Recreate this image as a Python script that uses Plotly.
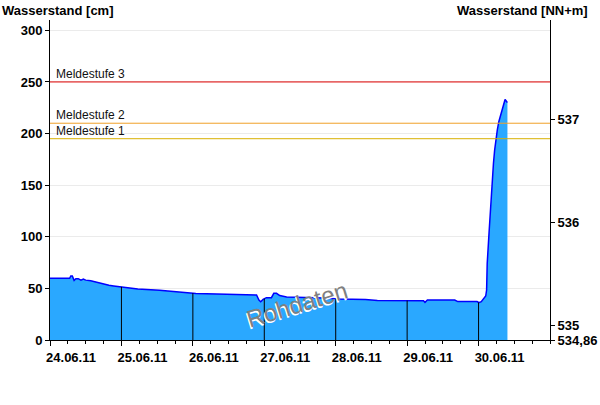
import numpy as np
import pandas as pd
import plotly.graph_objects as go

# Pegel readings: hours since 24.06.2011 00:00 and water level in cm
start = pd.Timestamp("2011-06-24 00:00")
hours = [0, 6.6, 7.0, 7.5, 8.1, 8.7, 9.5, 10.4, 11.2, 12, 13.7, 15.4, 17.1, 18.4,
         19.8, 21.4, 24, 26, 29.5, 36.8, 40.7, 44.6, 49, 56, 63, 69.4, 70.2, 70.8,
         71.6, 72.7, 74.4, 75.2, 76.1, 77.2, 79.5, 84, 92, 97, 101, 106, 110, 120,
         125.5, 126, 126.8, 136, 137, 143.5, 144.1, 144.9, 145.6, 146.4, 146.7,
         146.9, 147.5, 148, 148.4, 148.6, 149, 149.4, 149.8, 150.3, 150.8, 151.4,
         152, 152.5, 152.9, 153.4, 153.7]
level_cm = [59.8, 59.8, 62, 62, 57.8, 59.4, 59.4, 58, 59, 58, 57.3, 56, 54.7, 53.7,
            53, 52.4, 51.5, 50.3, 49.3, 48.3, 47.2, 46.3, 45, 44.5, 43.9, 43.6, 38.8, 37.1,
            39.3, 41, 41, 45.2, 45.2, 43, 41.7, 41.3, 40.8, 39.6, 39.4, 39.2, 38.2, 38.2,
            38, 36.5, 38.7, 38.7, 37.2, 37.2, 36.1, 37.1, 39.4, 42.6, 48.4,
            74, 103, 129, 145, 155, 171, 184, 194, 203.5, 211.5, 218,
            223, 229.4, 233, 231, 230]

# Alarm levels (cm)
stage_names = ["Meldestufe 3", "Meldestufe 2", "Meldestufe 1"]
stage_values = [250, 210, 195]
stage_colors = ["#e00000", "#f0a028", "#d8b000"]

# Gauge zero (NN+m) for the right axis
gauge_zero = 534.86
right_ticks = [534.86, 535, 536, 537]
right_labels = ["534,86", "535", "536", "537"]
left_ticks = [0, 50, 100, 150, 200, 250, 300]
day_labels = ["24.06.11", "25.06.11", "26.06.11", "27.06.11",
              "28.06.11", "29.06.11", "30.06.11"]

times = start + pd.to_timedelta(hours, unit="h")
day_ticks = [start + pd.Timedelta(days=i) for i in range(len(day_labels))]
y_max = 310

font_family = "Arial, Liberation Sans, sans-serif"

fig = go.Figure()

fig.add_trace(go.Scatter(
    x=times, y=level_cm, mode="lines",
    line=dict(color="#0000ff", width=1.5),
    fill="tozeroy", fillcolor="#2aa8ff",
    hoverinfo="skip", showlegend=False,
))

# Black day markers from the axis up to the level at each midnight
day_hours = np.arange(24, 150, 24)
day_levels = np.interp(day_hours, hours, level_cm)
vx, vy = [], []
for h, v in zip(day_hours, day_levels):
    t = start + pd.Timedelta(hours=float(h))
    vx += [t, t, None]
    vy += [0, v, None]
fig.add_trace(go.Scatter(x=vx, y=vy, mode="lines",
                         line=dict(color="black", width=1),
                         hoverinfo="skip", showlegend=False))

# Same series in NN+m on the right axis (invisible, keeps the axis drawn)
fig.add_trace(go.Scatter(
    x=times, y=[gauge_zero + v / 100 for v in level_cm], yaxis="y2",
    mode="lines", line=dict(width=0, color="rgba(0,0,0,0)"),
    hoverinfo="skip", showlegend=False,
))

for name, val, col in zip(stage_names, stage_values, stage_colors):
    fig.add_shape(type="line", xref="paper", x0=0, x1=1, yref="y", y0=val, y1=val,
                  line=dict(color=col, width=1), layer="above")
    fig.add_annotation(xref="paper", x=0.008, yref="y", y=val, text=name,
                       showarrow=False, xanchor="left", yanchor="bottom", yshift=-1,
                       font=dict(family=font_family, size=12, color="#111111"))

# Watermark
wm_x = start + pd.Timedelta(hours=83)
for dx, dy, col in [(-1.5, -1.5, "white"), (0, 0, "#808080")]:
    fig.add_annotation(x=wm_x, y=34, xref="x", yref="y", text="Rohdaten",
                       showarrow=False, textangle=-17, xshift=dx, yshift=dy,
                       font=dict(family=font_family, size=24, color=col))

# Axis titles
fig.add_annotation(xref="paper", yref="paper", x=-0.1, y=1.0, yshift=19,
                   text="Wasserstand [cm]", showarrow=False,
                   xanchor="left", yanchor="top",
                   font=dict(family=font_family, size=13, color="black", weight="bold"))
fig.add_annotation(xref="paper", yref="paper", x=1.08, y=1.0, yshift=19,
                   text="Wasserstand [NN+m]", showarrow=False,
                   xanchor="right", yanchor="top",
                   font=dict(family=font_family, size=13, color="black", weight="bold"))

tick_font = dict(family=font_family, size=13, color="black", weight="bold")

fig.update_layout(
    width=600, height=405,
    margin=dict(l=50, r=50, t=20, b=65, autoexpand=False),
    paper_bgcolor="white", plot_bgcolor="white",
    showlegend=False,
    xaxis=dict(
        type="date", automargin=False,
        range=[start, start + pd.Timedelta(days=7)],
        tickvals=day_ticks, ticktext=day_labels, ticklabelshift=21,
        ticks="outside", ticklen=5, tickcolor="black",
        showline=True, linecolor="black", linewidth=1,
        showgrid=False, zeroline=False,
        tickfont=tick_font,
        minor=dict(dtick=6 * 3600000, tick0=start, ticks="outside", ticklen=3,
                   tickcolor="black", showgrid=False),
    ),
    yaxis=dict(
        range=[0, y_max], tickvals=left_ticks, automargin=False,
        ticks="outside", ticklen=4, tickcolor="black",
        showline=True, linecolor="black", linewidth=1,
        showgrid=True, gridcolor="#ebebeb", gridwidth=1,
        zeroline=False, tickfont=tick_font,
    ),
    yaxis2=dict(
        overlaying="y", side="right", automargin=False,
        range=[gauge_zero, gauge_zero + y_max / 100],
        tickvals=right_ticks, ticktext=right_labels,
        ticks="outside", ticklen=4, tickcolor="black",
        showline=True, linecolor="black", linewidth=1,
        showgrid=False, zeroline=False, tickfont=tick_font,
    ),
)

fig.write_html("out.html")
